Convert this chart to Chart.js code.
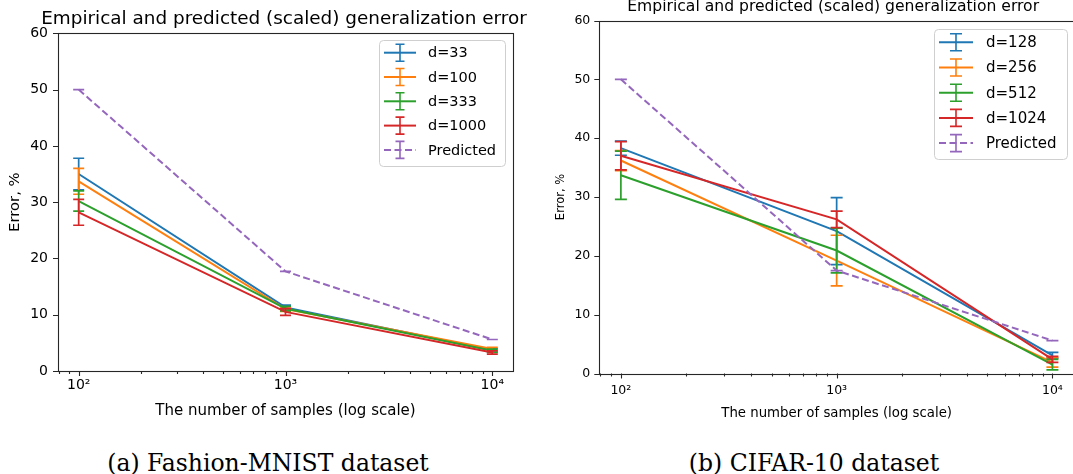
<!DOCTYPE html>
<html><head><meta charset="utf-8">
<script src="https://cdn.jsdelivr.net/npm/chart.js@4/dist/chart.umd.min.js"></script>
<style>
html,body{margin:0;padding:0;background:#fff;overflow:hidden;width:1073px;height:474px;position:relative;}
canvas{position:absolute;top:0;}
#c1{left:0;}
#c2{left:550px;}
.cap{position:absolute;font-family:"DejaVu Serif",serif;font-size:23.5px;color:#000;top:449px;transform:translateX(-50%);white-space:nowrap;line-height:28px;}
</style></head>
<body>
<canvas id="c1" width="550" height="440"></canvas>
<canvas id="c2" width="554" height="440"></canvas>
<div class="cap" style="left:268px">(a) Fashion-MNIST dataset</div>
<div class="cap" style="left:814px">(b) CIFAR-10 dataset</div>
<script>
// ---------- data ----------
const samples = [100, 1000, 10000];
const xTickValues = [100, 1000, 10000];
const xTickLabels = ['10\u00B2', '10\u00B3', '10\u2074'];
const xMinorTicks = [80, 90, 200, 300, 400, 500, 600, 700, 800, 900,
                     2000, 3000, 4000, 5000, 6000, 7000, 8000, 9000];
const yTickValues = [0, 10, 20, 30, 40, 50, 60];
const chartTitle = 'Empirical and predicted (scaled) generalization error';
const xTitle = 'The number of samples (log scale)';
const yTitle = 'Error, %';

// (a) Fashion-MNIST
const fmLabels = ['d=33', 'd=100', 'd=333', 'd=1000', 'Predicted'];
const fmD33 = [35.0, 11.3, 3.7];
const fmD33Err = [2.8, 0.4, 0.3];
const fmD100 = [33.7, 11.0, 3.9];
const fmD100Err = [2.3, 0.4, 0.3];
const fmD333 = [30.2, 11.1, 3.6];
const fmD333Err = [1.8, 0.4, 0.3];
const fmD1000 = [28.2, 10.5, 3.3];
const fmD1000Err = [2.3, 0.6, 0.3];
const fmPred = [50.0, 17.7, 5.6];
const fmPredErr = [0, 0, 0];

// (b) CIFAR-10
const cfLabels = ['d=128', 'd=256', 'd=512', 'd=1024', 'Predicted'];
const cfD128 = [38.3, 24.2, 3.1];
const cfD128Err = [1.2, 5.7, 0.5];
const cfD256 = [36.2, 19.2, 1.9];
const cfD256Err = [1.7, 4.3, 0.8];
const cfD512 = [33.7, 20.9, 1.5];
const cfD512Err = [4.1, 3.8, 0.9];
const cfD1024 = [37.0, 26.2, 2.4];
const cfD1024Err = [2.4, 1.4, 0.5];
const cfPred = [50.0, 17.5, 5.6];
const cfPredErr = [0, 0, 0];

const colors = ['#1f77b4', '#ff7f0e', '#2ca02c', '#d62728', '#9467bd'];

// ---------- helpers ----------
function pts(vals) { return vals.map((v, i) => ({x: samples[i], y: v})); }
function makeDatasets(labels, series, errs) {
  return series.map((s, i) => ({
    label: labels[i],
    data: pts(s),
    errors: errs[i],
    borderColor: colors[i],
    backgroundColor: colors[i],
    borderWidth: 2,
    borderDash: i === 4 ? [7, 3.5] : [],
    pointRadius: 0,
    tension: 0,
    fill: false,
    order: 4 - i
  }));
}

const errorBarPlugin = {
  id: 'errorBars',
  afterDatasetDraw(chart, args, o) {
    const ds = chart.data.datasets[args.index];
    if (!ds.errors) return;
    const ys = chart.scales.y, ctx = chart.ctx, cap = o.capWidth;
    ctx.save();
    ctx.strokeStyle = ds.borderColor;
    ctx.lineWidth = o.lineWidth;
    ctx.setLineDash([]);
    args.meta.data.forEach((pt, i) => {
      const v = ds.data[i].y, e = ds.errors[i];
      const t = ys.getPixelForValue(v + e), b = ys.getPixelForValue(v - e);
      ctx.beginPath();
      ctx.moveTo(pt.x, t); ctx.lineTo(pt.x, b);
      ctx.moveTo(pt.x - cap / 2, t); ctx.lineTo(pt.x + cap / 2, t);
      ctx.moveTo(pt.x - cap / 2, b); ctx.lineTo(pt.x + cap / 2, b);
      ctx.stroke();
    });
    ctx.restore();
  }
};

const framePlugin = {
  id: 'frame',
  afterDraw(chart, args, o) {
    const {ctx, chartArea: a} = chart;
    const xs = chart.scales.x, ys = chart.scales.y;
    ctx.save();
    ctx.strokeStyle = '#262626';
    ctx.lineWidth = 1.1;
    ctx.setLineDash([]);
    ctx.strokeRect(Math.round(a.left) + 0.5, Math.round(a.top) + 0.5,
                   Math.round(a.right - a.left), Math.round(a.bottom - a.top));
    ctx.beginPath();
    xs.ticks.forEach(t => {
      const px = Math.round(xs.getPixelForValue(t.value)) + 0.5;
      const len = xTickValues.indexOf(t.value) >= 0 ? o.major : o.minor;
      ctx.moveTo(px, a.bottom); ctx.lineTo(px, a.bottom + len);
    });
    ys.ticks.forEach(t => {
      const py = Math.round(ys.getPixelForValue(t.value)) + 0.5;
      ctx.moveTo(a.left, py); ctx.lineTo(a.left - o.major, py);
    });
    ctx.stroke();
    // title
    ctx.fillStyle = '#000';
    ctx.font = o.titleSize + 'px "DejaVu Sans"';
    ctx.textAlign = 'center';
    ctx.textBaseline = 'middle';
    ctx.fillText(chartTitle, (a.left + a.right) / 2 + o.titleDx, o.titleY);
    ctx.restore();
  }
};

const legendPlugin = {
  id: 'errLegend',
  afterDraw(chart, args, o) {
    const ctx = chart.ctx;
    ctx.save();
    ctx.fillStyle = 'rgba(255,255,255,0.85)';
    ctx.strokeStyle = '#cfcfcf';
    ctx.lineWidth = 1;
    ctx.beginPath();
    ctx.roundRect(o.x + 0.5, o.y + 0.5, o.w, o.h, 4);
    ctx.fill(); ctx.stroke();
    chart.data.datasets.forEach((ds, i) => {
      const cy = o.y + o.firstRow + i * o.rowGap;
      const x0 = o.x + o.symPad, x1 = x0 + o.symLen, xc = (x0 + x1) / 2;
      ctx.strokeStyle = ds.borderColor;
      ctx.lineWidth = 2;
      ctx.setLineDash(ds.borderDash || []);
      ctx.beginPath(); ctx.moveTo(x0, cy); ctx.lineTo(x1, cy); ctx.stroke();
      ctx.setLineDash([]);
      ctx.lineWidth = 1.6;
      ctx.beginPath();
      ctx.moveTo(xc, cy - o.barH / 2); ctx.lineTo(xc, cy + o.barH / 2);
      ctx.moveTo(xc - o.cap / 2, cy - o.barH / 2); ctx.lineTo(xc + o.cap / 2, cy - o.barH / 2);
      ctx.moveTo(xc - o.cap / 2, cy + o.barH / 2); ctx.lineTo(xc + o.cap / 2, cy + o.barH / 2);
      ctx.stroke();
      ctx.fillStyle = '#000';
      ctx.font = o.fontSize + 'px "DejaVu Sans"';
      ctx.textBaseline = 'middle';
      ctx.textAlign = 'left';
      ctx.fillText(ds.label, x1 + o.textGap, cy + 1);
    });
    ctx.restore();
  }
};

function makeConfig(datasets, g) {
  return {
    type: 'line',
    data: {datasets},
    plugins: [errorBarPlugin, framePlugin, legendPlugin],
    options: {
      responsive: false,
      animation: false,
      events: [],
      layout: {padding: {left: 0, right: g.padRight, top: g.padTop, bottom: 0}},
      plugins: {
        legend: {display: false},
        tooltip: {enabled: false},
        title: {display: false},
        errorBars: {capWidth: g.cap, lineWidth: 1.7},
        frame: {major: 5, minor: 3, titleSize: g.titleSize, titleDx: g.titleDx, titleY: g.titleY},
        errLegend: g.legend
      },
      scales: {
        x: {
          type: 'logarithmic',
          min: Math.pow(10, 1.9), max: Math.pow(10, 4.1),
          afterBuildTicks: s => { s.ticks = xTickValues.concat(xMinorTicks).sort((a, b) => a - b).map(v => ({value: v})); },
          afterFit: s => { s.height = g.xHeight; },
          grid: {display: true, drawOnChartArea: false, drawTicks: false, color: 'rgba(0,0,0,0)'},
          border: {display: false},
          ticks: {
            autoSkip: false, maxRotation: 0, minRotation: 0, padding: g.xTickPad, color: '#000',
            font: {family: 'DejaVu Sans', size: g.tickSize},
            callback: v => { const i = xTickValues.indexOf(v); return i >= 0 ? xTickLabels[i] : ''; }
          },
          title: {
            display: true, text: xTitle, color: '#000',
            font: {family: 'DejaVu Sans', size: g.xTitleSize, lineHeight: 1.2},
            padding: {top: 0, bottom: g.xTitlePad}
          }
        },
        y: {
          min: 0, max: 60,
          afterBuildTicks: s => { s.ticks = yTickValues.map(v => ({value: v})); },
          afterFit: s => { s.width = g.yWidth; },
          grid: {display: true, drawOnChartArea: false, drawTicks: false, color: 'rgba(0,0,0,0)'},
          border: {display: false},
          ticks: {padding: g.yTickPad, color: '#000', font: {family: 'DejaVu Sans', size: g.tickSize}},
          title: {
            display: true, text: yTitle, color: '#000',
            font: {family: 'DejaVu Sans', size: g.yTitleSize, lineHeight: 1.2},
            padding: {top: g.yTitlePad, bottom: 0}
          }
        }
      }
    }
  };
}

new Chart(document.getElementById('c1'), makeConfig(
  makeDatasets(fmLabels, [fmD33, fmD100, fmD333, fmD1000, fmPred],
               [fmD33Err, fmD100Err, fmD333Err, fmD1000Err, fmPredErr]),
  {padRight: 37, padTop: 33.3, titleSize: 18.4, titleDx: -1.5, titleY: 19, cap: 11,
   xHeight: 69, xTickPad: 6, tickSize: 14, xTitleSize: 15, xTitlePad: 20,
   yTitleSize: 14.8, yWidth: 58, yTickPad: 10, yTitlePad: 6,
   legend: {x: 379, y: 40, w: 126, h: 126, firstRow: 12.7, rowGap: 24.3, symPad: 5, symLen: 32,
            textGap: 12, fontSize: 14.5, barH: 17, cap: 9}}));

new Chart(document.getElementById('c2'), makeConfig(
  makeDatasets(cfLabels, [cfD128, cfD256, cfD512, cfD1024, cfPred],
               [cfD128Err, cfD256Err, cfD512Err, cfD1024Err, cfPredErr]),
  {padRight: 30, padTop: 20.5, titleSize: 15.6, titleDx: -3.5, titleY: 7, cap: 12,
   xHeight: 66.5, xTickPad: 10, tickSize: 12.5, xTitleSize: 13.3, xTitlePad: 18.5,
   yTitleSize: 11.5, yWidth: 49.3, yTickPad: 9, yTitlePad: 4,
   legend: {x: 384, y: 29, w: 133, h: 130, firstRow: 13.3, rowGap: 25.2, symPad: 5, symLen: 34,
            textGap: 13, fontSize: 15, barH: 17, cap: 12}}));
</script>
</body></html>
